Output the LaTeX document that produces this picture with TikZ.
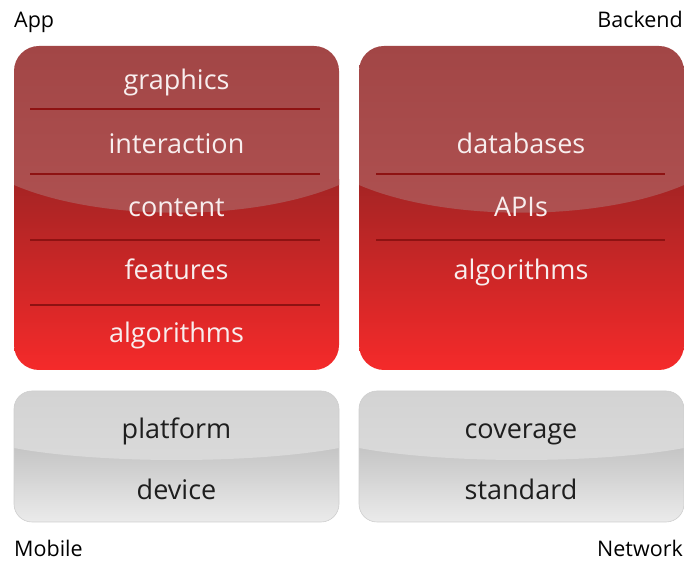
\documentclass[tikz,border=0pt]{standalone}
\usepackage{fontspec}
\setmainfont{Open Sans}
\usepackage{tikz}
\usetikzlibrary{positioning}

\begin{document}
\begin{tikzpicture}[
    x=1pt, y=1pt,
    layer/.style={anchor=base, inner sep=0pt, text=layertext, font=\fontsize{27}{30}\selectfont},
    base/.style={anchor=base, inner sep=0pt, text=basetext, font=\fontsize{27}{30}\selectfont},
    caption/.style={inner sep=0pt, text=black, font=\fontsize{21.5}{24}\selectfont},
    rule/.style={draw=rulered, line width=1.6pt}
]
\definecolor{glosstop}{HTML}{A24646}
\definecolor{glossbot}{HTML}{AF5151}
\definecolor{redtop}{HTML}{A42424}
\definecolor{redbot}{HTML}{F52A2A}
\definecolor{rulered}{HTML}{8E1212}
\definecolor{layertext}{HTML}{F8EEEE}
\definecolor{greytop}{HTML}{D3D3D3}
\definecolor{greyglow}{HTML}{DADADA}
\definecolor{greymid}{HTML}{C2C2C2}
\definecolor{greybot}{HTML}{EBEBEB}
\definecolor{basetext}{HTML}{1E1E1E}

\useasboundingbox (0,0) rectangle (684,561);

    % red stacks with the glossy cap
    \foreach \x in {14,359} {
        \begin{scope}
            \clip[rounded corners=25] (\x,191) rectangle ++(325,324);
            \shade[top color=redtop, bottom color=redbot] (\x,191) rectangle ++(325,190);
            \shade[top color=glosstop, bottom color=glossbot] (\x,515)
                -- (\x,376)
                .. controls ++(86,-37) and ++(-86,-37) .. ++(325,0)
                -- ++(0,139) -- cycle;
        \end{scope}
    }

    % grey bases
    \foreach \x in {14,359} {
        \begin{scope}
            \clip[rounded corners=18] (\x,39) rectangle ++(325,131);
            \shade[top color=greymid, bottom color=greybot] (\x,39) rectangle ++(325,80);
            \shade[top color=greytop, bottom color=greyglow] (\x,170)
                -- (\x,113)
                .. controls ++(86,-16) and ++(-86,-16) .. ++(325,0)
                -- ++(0,57) -- cycle;
        \end{scope}
        \draw[greymid!80!white, line width=0.6pt, rounded corners=18] (\x,39) rectangle ++(325,131);
    }

    % dividers
    \foreach \y in {452,387,321,256}
        \draw[rule] (30,\y) -- (320,\y);
    \foreach \y in {387,321}
        \draw[rule] (376,\y) -- (665,\y);

    % app layers
    \node[layer] (graphics) at (176.5,471) {graphics};
    \node[layer] (interaction) at (176.5,407) {interaction};
    \node[layer] (content) at (176.5,344) {content};
    \node[layer] (features) at (176.5,281) {features};
    \node[layer] (appalgo) at (176.5,218) {algorithms};

    % backend layers
    \node[layer] (databases) at (521,407) {databases};
    \node[layer] (apis) at (521,344) {APIs};
    \node[layer] (backalgo) at (521,281) {algorithms};

    % mobile and network
    \node[base] (platform) at (176.5,122) {platform};
    \node[base] (device) at (176.5,61) {device};
    \node[base] (coverage) at (521,122) {coverage};
    \node[base] (standard) at (521,61) {standard};

    % corner captions
    \node[caption, anchor=base west] (app) at (14,533) {App};
    \node[caption, anchor=base east] (backend) at (683,533) {Backend};
    \node[caption, anchor=base west] (mobile) at (14,4) {Mobile};
    \node[caption, anchor=base east] (network) at (683,4) {Network};
\end{tikzpicture}
\end{document}
